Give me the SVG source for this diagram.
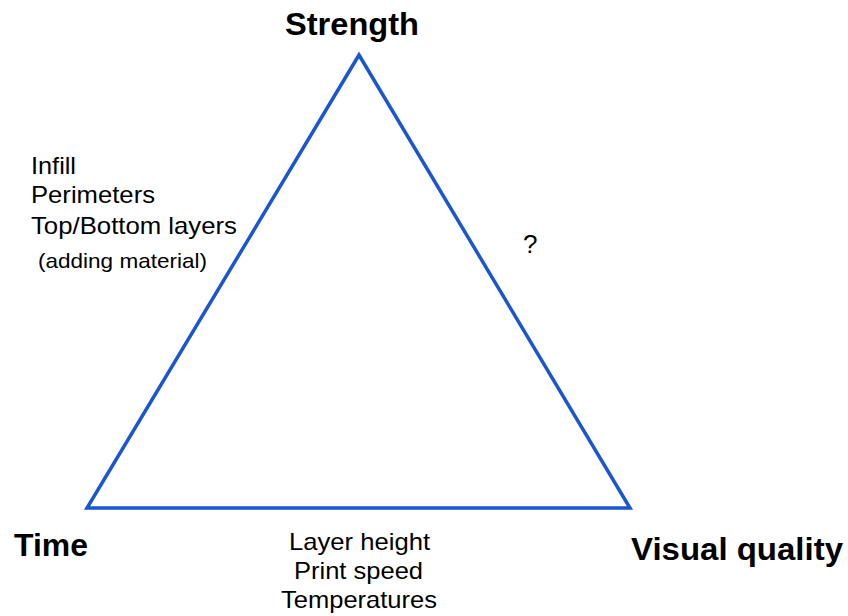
<svg xmlns="http://www.w3.org/2000/svg" width="848" height="616" viewBox="0 0 848 616">
  <style>
    .corner { font-family: "Liberation Sans", Arial, sans-serif; font-weight: bold; font-size: 32px; fill: #000; }
    .note { font-family: "Liberation Sans", Arial, sans-serif; font-size: 24px; fill: #000; }
    .edge { fill: none; stroke: #1a56d0; stroke-width: 3.5; stroke-linejoin: miter; }
  </style>
  <rect width="848" height="616" fill="#fff"/>

  <!-- trade-off triangle -->
  <g id="connectors">
    <polygon class="edge" points="359,55 87,508 630,508"/>
  </g>

  <g id="strength">
    <text class="corner" x="285" y="35" textLength="134" lengthAdjust="spacingAndGlyphs">Strength</text>
  </g>
  <g id="time">
    <text class="corner" x="14" y="556" textLength="74" lengthAdjust="spacingAndGlyphs">Time</text>
  </g>
  <g id="visual-quality">
    <text class="corner" x="631" y="560" textLength="212" lengthAdjust="spacingAndGlyphs">Visual quality</text>
  </g>

  <!-- parameters along the Strength–Time edge -->
  <g id="strength-time-params">
    <text class="note" x="31" y="174" textLength="45" lengthAdjust="spacingAndGlyphs">Infill</text>
    <text class="note" x="31" y="203" textLength="124" lengthAdjust="spacingAndGlyphs">Perimeters</text>
    <text class="note" x="31" y="234" textLength="206" lengthAdjust="spacingAndGlyphs">Top/Bottom layers</text>
    <text class="note" x="38" y="268" style="font-size:21px" textLength="169" lengthAdjust="spacingAndGlyphs">(adding material)</text>
  </g>

  <!-- parameters along the Strength–Visual quality edge -->
  <g id="strength-quality-params">
    <text class="note" x="523" y="253" style="font-size:26px">?</text>
  </g>

  <!-- parameters along the Time–Visual quality edge -->
  <g id="time-quality-params">
    <text class="note" x="289" y="550" textLength="141" lengthAdjust="spacingAndGlyphs">Layer height</text>
    <text class="note" x="294" y="579" textLength="129" lengthAdjust="spacingAndGlyphs">Print speed</text>
    <text class="note" x="281" y="608" textLength="156" lengthAdjust="spacingAndGlyphs">Temperatures</text>
  </g>
</svg>
